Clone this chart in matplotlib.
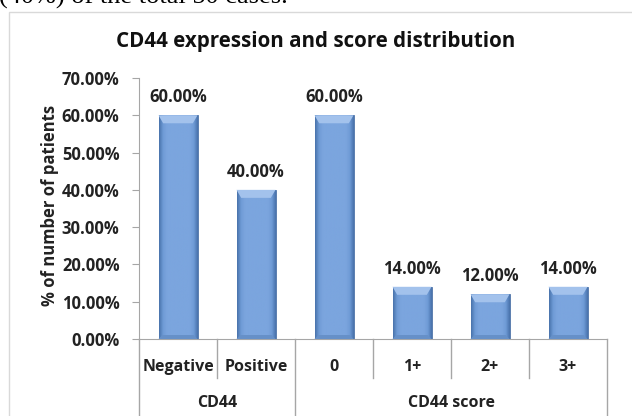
import numpy as np
import matplotlib
matplotlib.use('Agg')
import matplotlib.pyplot as plt
from matplotlib.colors import LinearSegmentedColormap
from matplotlib.patches import Rectangle

categories = ['Negative', 'Positive', '0', '1+', '2+', '3+']
values = [0.60, 0.40, 0.60, 0.14, 0.12, 0.14]
groups = ['CD44', 'CD44 score']
group_sizes = [2, 4]
yticks = [0.0, 0.1, 0.2, 0.3, 0.4, 0.5, 0.6, 0.7]

plt.rcParams['font.family'] = ['Open Sans', 'DejaVu Sans']

W, H = 632, 416
fig = plt.figure(figsize=(W / 100, H / 100), dpi=100)

# cropped line of text above the chart, as in the screenshot
fig.text(-0.002, 1 - 4 / H, '(40%) of the total 50 cases.', family='Liberation Serif',
         fontsize=19, va='baseline', ha='left')

# light chart border
fig.patches.append(Rectangle((9 / W, -0.1), 1.2, (H - 12) / H + 0.1, transform=fig.transFigure,
                             fill=False, edgecolor='#d9d9d9', linewidth=1))

fig.text(0.5, 1 - 42 / H, 'CD44 expression and score distribution', ha='center', va='center',
         fontsize=14.8, fontweight='bold', color='#111111')

x0, x1, ytop, ybot = 139, 607, 78, 339
ax = fig.add_axes([x0 / W, (H - ybot) / H, (x1 - x0) / W, (ybot - ytop) / H])
ph = ybot - ytop
px = 0.7 / ph  # data units per pixel

x = np.arange(len(categories))
bars = ax.bar(x, values, width=0.5, color='#7aa4dd', edgecolor='#4d72a6', linewidth=0.6, zorder=2)

# shaded bar faces
cmap = LinearSegmentedColormap.from_list(
    'bev', [(0, '#4a74ad'), (0.1, '#6f9bd6'), (0.2, '#7ba5de'), (0.8, '#7ba5de'),
            (0.9, '#6f9bd6'), (1, '#4a74ad')])
grad = np.linspace(0, 1, 64).reshape(1, -1)
for b in bars:
    bx, bw, bh = b.get_x(), b.get_width(), b.get_height()
    im = ax.imshow(grad, extent=[bx, bx + bw, 0, bh], aspect='auto', cmap=cmap, zorder=3)
    im.set_clip_path(b)
    top = bh - 8 * px
    ax.fill([bx, bx + bw, bx + bw * 0.88, bx + bw * 0.12], [bh, bh, top, top],
            color='#a3c2ec', zorder=4, linewidth=0)
    ax.fill([bx, bx + bw, bx + bw * 0.9, bx + bw * 0.1], [0, 0, 4 * px, 4 * px],
            color='#6690c8', zorder=4, linewidth=0)
    ax.text(b.get_x() + bw / 2, bh + 18 * px, f'{bh * 100:.2f}%', ha='center', va='center',
            fontsize=12, fontweight='bold', color='#222222')

ax.set_xlim(-0.5, len(categories) - 0.5)
ax.set_ylim(0, 0.7)
ax.set_yticks(yticks)
ax.set_yticklabels([f'{t * 100:.2f}%' for t in yticks], fontsize=12, fontweight='bold', color='#222222')
ax.set_xticks([])
for s in ['top', 'right']:
    ax.spines[s].set_visible(False)
for s in ['left', 'bottom']:
    ax.spines[s].set_color('#a6a6a6')
ax.tick_params(axis='y', length=5, color='#a6a6a6', pad=9)

fig.text(50 / W, 1 - 205 / H, '% of number of patients', rotation=90, ha='center', va='center',
         fontsize=12, fontweight='bold', color='#222222')

# two-level category axis
row1 = -39 / ph
row2 = -77 / ph
tr = ax.get_xaxis_transform()
for i, c in enumerate(categories):
    ax.text(i, -28 / ph, c, transform=tr, ha='center', va='center', fontsize=11.5, fontweight='bold',
            color='#222222')
edges = np.cumsum([0] + group_sizes) - 0.5
for i in range(len(categories) + 1):
    xe = i - 0.5
    low = row2 if xe in edges else row1
    ax.plot([xe, xe], [0, low], transform=tr, color='#a6a6a6', linewidth=1, clip_on=False)
for g, a, b in zip(groups, edges[:-1], edges[1:]):
    ax.text((a + b) / 2, -64 / ph, g, transform=tr, ha='center', va='center', fontsize=11.5,
            fontweight='bold', color='#222222')

fig.savefig('out.png', dpi=100)
